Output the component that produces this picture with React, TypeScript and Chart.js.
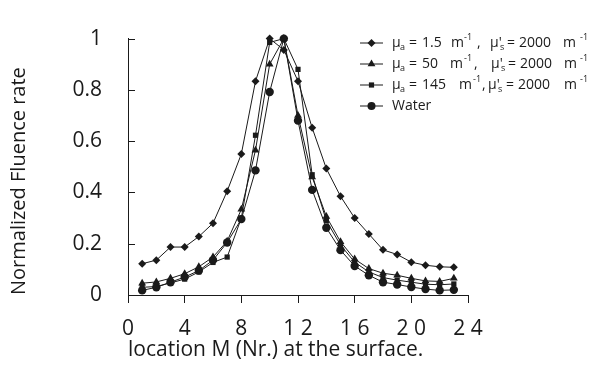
import React, { useEffect, useRef } from "react";
import { Chart, registerables } from "chart.js";

Chart.register(...registerables);

// Detector positions along the surface
const locations = [1, 2, 3, 4, 5, 6, 7, 8, 9, 10, 11, 12, 13, 14, 15, 16, 17, 18, 19, 20, 21, 22, 23];

// Normalized fluence rate per medium
const muA1p5 = [0.122, 0.136, 0.187, 0.187, 0.228, 0.28, 0.405, 0.55, 0.834, 1.0, 0.956, 0.834, 0.652, 0.493, 0.385, 0.3, 0.238, 0.176, 0.158, 0.128, 0.116, 0.11, 0.108];
const muA50 = [0.046, 0.051, 0.065, 0.083, 0.11, 0.148, 0.21, 0.334, 0.565, 0.9, 1.0, 0.7, 0.46, 0.306, 0.208, 0.14, 0.103, 0.085, 0.077, 0.065, 0.055, 0.053, 0.065];
const muA145 = [0.03, 0.033, 0.047, 0.062, 0.09, 0.127, 0.148, 0.3, 0.623, 0.985, 1.0, 0.88, 0.469, 0.29, 0.195, 0.128, 0.09, 0.068, 0.058, 0.05, 0.042, 0.04, 0.043];
const water = [0.018, 0.03, 0.05, 0.07, 0.095, 0.136, 0.205, 0.296, 0.486, 0.792, 1.0, 0.68, 0.41, 0.262, 0.175, 0.113, 0.077, 0.05, 0.041, 0.031, 0.023, 0.018, 0.02];

// Axis tick labels (x labels are drawn with spaced digits)
const xTickValues = [0, 4, 8, 12, 16, 20, 24];
const xTickLabels = ["0", "4", "8", "1 2", "1 6", "2 0", "2 4"];
const yTickValues = [0, 0.2, 0.4, 0.6, 0.8, 1];
const yTickLabels = ["0", "0.2", "0.4", "0.6", "0.8", "1"];

const FONT = "'Open Sans', 'DejaVu Sans', sans-serif";
const INK = "#1a1a1a";

type Seg = { t: string; x: number; k?: "sub" | "sup" };

// Legend rows: marker style and rich-text segments (subscripts / superscripts)
const legendRows: { y: number; marker: string; segs: Seg[] }[] = [
  {
    y: 43,
    marker: "rectRot",
    segs: [
      { t: "\u03bc", x: 392 }, { t: "a", x: 400, k: "sub" }, { t: "=", x: 409 }, { t: "1.5", x: 422 },
      { t: "m", x: 451 }, { t: "-1", x: 464, k: "sup" }, { t: ",", x: 477 },
      { t: "\u03bc'", x: 490 }, { t: "s", x: 500, k: "sub" }, { t: "=", x: 507 }, { t: "2000", x: 519 },
      { t: "m", x: 563 }, { t: "-1", x: 580, k: "sup" },
    ],
  },
  {
    y: 64,
    marker: "triangle",
    segs: [
      { t: "\u03bc", x: 392 }, { t: "a", x: 400, k: "sub" }, { t: "=", x: 409 }, { t: "50", x: 422 },
      { t: "m", x: 450 }, { t: "-1", x: 464, k: "sup" }, { t: ",", x: 474 },
      { t: "\u03bc'", x: 491 }, { t: "s", x: 501, k: "sub" }, { t: "=", x: 508 }, { t: "2000", x: 520 },
      { t: "m", x: 564 }, { t: "-1", x: 580, k: "sup" },
    ],
  },
  {
    y: 85,
    marker: "rect",
    segs: [
      { t: "\u03bc", x: 392 }, { t: "a", x: 400, k: "sub" }, { t: "=", x: 409 }, { t: "145", x: 422 },
      { t: "m", x: 459 }, { t: "-1", x: 473, k: "sup" }, { t: ",", x: 482 },
      { t: "\u03bc'", x: 488 }, { t: "s", x: 498, k: "sub" }, { t: "=", x: 506 }, { t: "2000", x: 518 },
      { t: "m", x: 564 }, { t: "-1", x: 580, k: "sup" },
    ],
  },
  { y: 106, marker: "circle", segs: [{ t: "Water", x: 392 }] },
];

function drawGlyph(ctx: CanvasRenderingContext2D, style: string, x: number, y: number) {
  ctx.beginPath();
  if (style === "rectRot") {
    const r = 4;
    ctx.moveTo(x, y - r); ctx.lineTo(x + r, y); ctx.lineTo(x, y + r); ctx.lineTo(x - r, y); ctx.closePath();
  } else if (style === "triangle") {
    const r = 4.5;
    ctx.moveTo(x, y - r); ctx.lineTo(x + r * 0.87, y + r * 0.5); ctx.lineTo(x - r * 0.87, y + r * 0.5); ctx.closePath();
  } else if (style === "rect") {
    ctx.rect(x - 2.6, y - 2.6, 5.2, 5.2);
  } else {
    ctx.arc(x, y, 4, 0, Math.PI * 2);
  }
  ctx.fill();
}

const legendPlugin = {
  id: "richLegend",
  afterDraw(chart: Chart) {
    const ctx = chart.ctx;
    ctx.save();
    ctx.fillStyle = INK;
    ctx.strokeStyle = INK;
    ctx.lineWidth = 1;
    ctx.textBaseline = "middle";
    ctx.textAlign = "left";
    for (const row of legendRows) {
      ctx.beginPath();
      ctx.moveTo(360, row.y);
      ctx.lineTo(383, row.y);
      ctx.stroke();
      drawGlyph(ctx, row.marker, 371.5, row.y);
      for (const s of row.segs) {
        if (s.k === "sub") {
          ctx.font = `9px ${FONT}`;
          ctx.fillText(s.t, s.x, row.y + 4);
        } else if (s.k === "sup") {
          ctx.font = `9px ${FONT}`;
          ctx.fillText(s.t, s.x, row.y - 6);
        } else {
          ctx.font = `14px ${FONT}`;
          ctx.fillText(s.t, s.x, row.y);
        }
      }
    }
    ctx.restore();
  },
};

// Y-axis tick marks point into the plot area
const innerTicksPlugin = {
  id: "innerYTicks",
  afterDraw(chart: Chart) {
    const y = chart.scales.y;
    const ctx = chart.ctx;
    ctx.save();
    ctx.strokeStyle = INK;
    ctx.lineWidth = 1;
    for (const v of yTickValues) {
      const py = Math.round(y.getPixelForValue(v)) + 0.5;
      ctx.beginPath();
      ctx.moveTo(y.right, py);
      ctx.lineTo(y.right + 7, py);
      ctx.stroke();
    }
    ctx.restore();
  },
};

function series(label: string, values: number[], pointStyle: string, radius: number) {
  return {
    label,
    data: locations.map((x, i) => ({ x, y: values[i] })),
    borderColor: INK,
    backgroundColor: INK,
    borderWidth: 1,
    pointStyle,
    pointRadius: radius,
    pointBorderWidth: 0,
    pointBackgroundColor: INK,
    tension: 0,
    clip: false as const,
  };
}

export default function App() {
  const canvasRef = useRef<HTMLCanvasElement | null>(null);

  useEffect(() => {
    const canvas = canvasRef.current;
    if (!canvas) return;
    const chart = new Chart(canvas, {
      type: "line",
      data: {
        datasets: [
          series("\u03bca = 1.5 m-1, \u03bc's = 2000 m-1", muA1p5, "rectRot", 4),
          series("\u03bca = 50 m-1, \u03bc's = 2000 m-1", muA50, "triangle", 4.5),
          series("\u03bca = 145 m-1, \u03bc's = 2000 m-1", muA145, "rect", 3.7),
          series("Water", water, "circle", 4.2),
        ],
      },
      options: {
        responsive: false,
        animation: false,
        layout: { padding: { left: 0, top: 16, right: 124, bottom: 0 } },
        plugins: { legend: { display: false }, tooltip: { enabled: false } },
        scales: {
          x: {
            type: "linear",
            min: 0,
            max: 24,
            afterFit: (s: any) => { s.height = 84; },
            afterBuildTicks: (s: any) => { s.ticks = xTickValues.map((v) => ({ value: v })); },
            grid: { display: true, drawOnChartArea: false, drawTicks: true, tickLength: 8, color: INK },
            border: { display: true, color: INK, width: 1 },
            ticks: {
              padding: 13,
              color: INK,
              font: { family: FONT, size: 21 },
              maxRotation: 0,
              autoSkip: false,
              callback: (v: any) => xTickLabels[xTickValues.indexOf(Number(v))] ?? "",
            },
            title: {
              display: true,
              text: "location M (Nr.) at the surface.",
              color: INK,
              align: "start",
              font: { family: FONT, size: 21 },
              padding: { top: 0, bottom: 16 },
            },
          },
          y: {
            min: 0,
            max: 1,
            afterFit: (s: any) => { s.width = 128; },
            afterBuildTicks: (s: any) => { s.ticks = yTickValues.map((v) => ({ value: v })); },
            grid: { display: true, drawOnChartArea: false, drawTicks: false },
            border: { display: true, color: INK, width: 1 },
            ticks: {
              padding: 26,
              color: INK,
              font: { family: FONT, size: 21 },
              autoSkip: false,
              callback: (v: any) => yTickLabels[yTickValues.indexOf(Number(v))] ?? "",
            },
            title: {
              display: true,
              text: "Normalized Fluence rate",
              color: INK,
              align: "start",
              font: { family: FONT, size: 20 },
              padding: { top: 7, bottom: 0 },
            },
          },
        },
      },
      plugins: [legendPlugin, innerTicksPlugin],
    });
    return () => chart.destroy();
  }, []);

  return (
    <div style={{ position: "absolute", left: 0, top: 0, width: 592, height: 379, background: "#fff" }}>
      <canvas ref={canvasRef} width={592} height={379} style={{ display: "block" }} />
    </div>
  );
}
